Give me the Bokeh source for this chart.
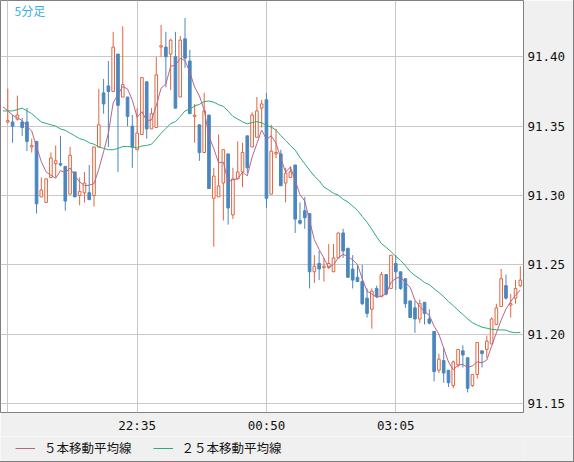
import numpy as np
import pandas as pd
from bokeh.plotting import figure
from bokeh.layouts import column
from bokeh.models import (ColumnDataSource, FixedTicker, Label, Legend, LegendItem,
                          PrintfTickFormatter, Range1d)
from bokeh.embed import file_html
from bokeh.resources import INLINE

# ---------------- data (5-minute candles) ----------------
opens = [91.353, 91.353, 91.355, 91.353, 91.353, 91.335, 91.339, 91.299, 91.295, 91.313,
         91.323, 91.323, 91.321, 91.301, 91.317, 91.300, 91.302, 91.302, 91.300, 91.335,
         91.374, 91.379, 91.375, 91.402, 91.371, 91.371, 91.350, 91.333, 91.344, 91.382,
         91.348, 91.349, 91.407, 91.407, 91.402, 91.400, 91.371, 91.413, 91.397, 91.357,
         91.351, 91.331, 91.358, 91.298, 91.299, 91.309, 91.330, 91.286, 91.312, 91.317,
         91.343, 91.335, 91.342, 91.363, 91.369, 91.301, 91.330, 91.330, 91.309, 91.313,
         91.322, 91.282, 91.289, 91.287, 91.245, 91.251, 91.248, 91.248, 91.245, 91.255,
         91.273, 91.262, 91.247, 91.241, 91.238, 91.226, 91.218, 91.233, 91.227, 91.243,
         91.233, 91.251, 91.245, 91.240, 91.224, 91.219, 91.211, 91.223, 91.211, 91.202,
         91.174, 91.181, 91.174, 91.163, 91.178, 91.188, 91.183, 91.163, 91.171, 91.188,
         91.189, 91.193, 91.207, 91.220, 91.235, 91.221, 91.226, 91.235]
highs = [91.377, 91.358, 91.372, 91.356, 91.363, 91.341, 91.339, 91.313, 91.312, 91.331,
         91.336, 91.343, 91.321, 91.335, 91.317, 91.313, 91.317, 91.322, 91.335, 91.377,
         91.384, 91.397, 91.418, 91.402, 91.422, 91.371, 91.358, 91.363, 91.385, 91.382,
         91.363, 91.400, 91.423, 91.418, 91.413, 91.418, 91.415, 91.428, 91.405, 91.366,
         91.351, 91.374, 91.358, 91.320, 91.344, 91.333, 91.330, 91.320, 91.339, 91.338,
         91.343, 91.360, 91.371, 91.369, 91.374, 91.351, 91.348, 91.333, 91.320, 91.321,
         91.322, 91.295, 91.299, 91.287, 91.257, 91.260, 91.255, 91.265, 91.265, 91.273,
         91.276, 91.262, 91.257, 91.250, 91.250, 91.233, 91.233, 91.235, 91.245, 91.243,
         91.257, 91.257, 91.245, 91.240, 91.224, 91.224, 91.225, 91.223, 91.218, 91.202,
         91.186, 91.190, 91.174, 91.181, 91.189, 91.192, 91.183, 91.171, 91.194, 91.188,
         91.199, 91.212, 91.222, 91.247, 91.243, 91.229, 91.239, 91.249]
lows = [91.352, 91.338, 91.354, 91.343, 91.332, 91.331, 91.287, 91.299, 91.295, 91.313,
        91.313, 91.321, 91.289, 91.301, 91.299, 91.293, 91.295, 91.297, 91.292, 91.335,
        91.359, 91.335, 91.375, 91.317, 91.371, 91.350, 91.320, 91.333, 91.344, 91.341,
        91.348, 91.349, 91.400, 91.378, 91.376, 91.363, 91.371, 91.392, 91.359, 91.338,
        91.325, 91.331, 91.305, 91.263, 91.299, 91.282, 91.279, 91.283, 91.312, 91.306,
        91.316, 91.335, 91.342, 91.349, 91.291, 91.301, 91.327, 91.307, 91.295, 91.313,
        91.273, 91.279, 91.276, 91.233, 91.237, 91.239, 91.238, 91.247, 91.245, 91.255,
        91.255, 91.241, 91.233, 91.238, 91.221, 91.212, 91.204, 91.226, 91.227, 91.228,
        91.233, 91.232, 91.232, 91.219, 91.212, 91.201, 91.208, 91.207, 91.207, 91.166,
        91.172, 91.165, 91.162, 91.161, 91.176, 91.176, 91.158, 91.162, 91.168, 91.176,
        91.183, 91.193, 91.207, 91.220, 91.225, 91.212, 91.222, 91.234]
closes = [91.354, 91.350, 91.358, 91.349, 91.339, 91.336, 91.294, 91.304, 91.312, 91.327,
          91.325, 91.322, 91.296, 91.329, 91.299, 91.303, 91.309, 91.297, 91.335, 91.351,
          91.366, 91.375, 91.407, 91.365, 91.380, 91.357, 91.335, 91.345, 91.385, 91.348,
          91.359, 91.387, 91.408, 91.400, 91.412, 91.363, 91.412, 91.399, 91.359, 91.358,
          91.331, 91.361, 91.305, 91.314, 91.307, 91.333, 91.291, 91.312, 91.317, 91.331,
          91.320, 91.358, 91.361, 91.366, 91.298, 91.332, 91.331, 91.307, 91.316, 91.317,
          91.283, 91.280, 91.284, 91.245, 91.249, 91.247, 91.249, 91.251, 91.255, 91.273,
          91.260, 91.241, 91.239, 91.238, 91.222, 91.215, 91.231, 91.227, 91.243, 91.229,
          91.257, 91.245, 91.233, 91.222, 91.212, 91.211, 91.222, 91.215, 91.208, 91.173,
          91.182, 91.172, 91.165, 91.180, 91.189, 91.185, 91.161, 91.171, 91.194, 91.186,
          91.195, 91.211, 91.219, 91.240, 91.226, 91.222, 91.233, 91.239]

# moving-average values before enough bars are available,
# starting one bar before the first candle
ma5_lead = [91.364, 91.361, 91.358, 91.356, 91.354]
ma25_lead = [91.361, 91.361, 91.361, 91.362, 91.363, 91.361, 91.359, 91.356, 91.353, 91.352,
             91.351, 91.350, 91.348, 91.347, 91.345, 91.343, 91.341, 91.340, 91.338, 91.337,
             91.335, 91.334, 91.333, 91.333, 91.334]

first_bar = "2013-05-01 20:20"
grid_times = ["20:20", "22:35", "00:50", "03:05"]
tick_labels = ["22:35", "00:50", "03:05"]
y_ticks = [91.15, 91.20, 91.25, 91.30, 91.35, 91.40]
legend_labels = ["５本移動平均線", "２５本移動平均線"]
title_text = "5分足"

# ---------------- derived ----------------
n = len(closes)
times = pd.date_range(first_bar, periods=n, freq="5min").strftime("%H:%M").tolist()
idx = np.arange(n)
o = np.array(opens); h = np.array(highs); l = np.array(lows); c = np.array(closes)
up = c >= o

cs = pd.Series(c)
ma5 = list(ma5_lead) + cs.rolling(5).mean().iloc[4:].tolist()
ma25 = list(ma25_lead) + cs.rolling(25).mean().iloc[24:].tolist()
ma_x = list(range(-1, n))

ORANGE = "#e0653f"
BLUE = "#4a87bf"
MAUVE = "#b8648a"
GREEN = "#2bab78"
PANEL = "#f0f0f0"
EDGE = "#808080"

# ---------------- main chart ----------------
p = figure(width=574, height=436, output_backend="svg", toolbar_location=None,
           x_range=Range1d(-1.524, 107.662), y_range=Range1d(91.14355, 91.4406),
           y_axis_location="right",
           min_border_left=0, min_border_top=0, min_border_right=51, min_border_bottom=24)
p.border_fill_color = PANEL
p.background_fill_color = "#ffffff"
p.outline_line_color = EDGE
p.outline_line_width = 1

p.xgrid.ticker = FixedTicker(ticks=[times.index(t) for t in grid_times])
p.ygrid.ticker = FixedTicker(ticks=y_ticks)
for g in (p.xgrid, p.ygrid):
    g.grid_line_color = "#c8c8c8"
    g.grid_line_width = 1

p.xaxis.ticker = FixedTicker(ticks=[times.index(t) for t in tick_labels])
p.xaxis.major_label_overrides = {times.index(t): t for t in tick_labels}
p.yaxis.ticker = FixedTicker(ticks=y_ticks)
p.yaxis.formatter = PrintfTickFormatter(format="%.2f")
for ax in (p.xaxis, p.yaxis):
    ax.axis_line_color = None
    ax.major_tick_line_color = None
    ax.minor_tick_line_color = None
    ax.major_tick_in = 0
    ax.major_tick_out = 0
    ax.major_label_text_font = "DejaVu Sans Mono"
    ax.major_label_text_font_size = "12.5px"
    ax.major_label_text_color = "#111111"
p.xaxis.major_label_standoff = 5
p.yaxis.major_label_standoff = 4

src_up = ColumnDataSource(dict(x=idx[up], o=o[up], h=h[up], l=l[up], c=c[up]))
src_dn = ColumnDataSource(dict(x=idx[~up], o=o[~up], h=h[~up], l=l[~up], c=c[~up]))
p.segment(x0="x", y0="h", x1="x", y1="l", source=src_up, line_color=ORANGE, line_width=1)
p.vbar(x="x", width=0.55, top="c", bottom="o", source=src_up,
       fill_color="#ffffff", line_color=ORANGE, line_width=1)
p.segment(x0="x", y0="h", x1="x", y1="l", source=src_dn, line_color=BLUE, line_width=1)
p.vbar(x="x", width=0.55, top="o", bottom="c", source=src_dn,
       fill_color=BLUE, line_color=BLUE, line_width=1)

p.line(ma_x, ma25, line_color=GREEN, line_width=1)
p.line(ma_x, ma5, line_color=MAUVE, line_width=1)

p.add_layout(Label(x=1.399, y=91.4392, text=title_text, text_baseline="top",
                   text_font="Noto Sans CJK JP", text_font_size="12px",
                   text_color="#3cb0ec"))
p.styles = {"border-right": "1px solid " + EDGE}

# ---------------- legend strip ----------------
leg = figure(width=574, height=26, output_backend="svg", toolbar_location=None,
             x_range=Range1d(0, 1), y_range=Range1d(0, 1),
             x_axis_type=None, y_axis_type=None,
             min_border_left=0, min_border_top=0, min_border_right=0, min_border_bottom=0)
leg.grid.visible = False
leg.outline_line_color = None
leg.background_fill_color = PANEL
leg.border_fill_color = PANEL
# placeholder renderers (no visible data) that only carry the legend line styles
k5 = leg.line(x=[np.nan], y=[np.nan], line_color=MAUVE, line_width=1)
k25 = leg.line(x=[np.nan], y=[np.nan], line_color=GREEN, line_width=1)
legend = Legend(items=[LegendItem(label=legend_labels[0], renderers=[k5]),
                       LegendItem(label=legend_labels[1], renderers=[k25])],
                location=(15, 5), orientation="horizontal",
                glyph_width=20, glyph_height=14, label_height=14, label_standoff=9,
                spacing=21, padding=0, margin=0,
                border_line_color=None, background_fill_alpha=0,
                label_text_font="Noto Sans CJK JP", label_text_font_size="12.5px",
                label_text_color="#111111")
leg.add_layout(legend, "center")
leg.styles = {"border-right": "1px solid " + EDGE, "border-bottom": "1px solid " + EDGE}

layout = column(p, leg, spacing=0)
open("out.html", "w").write(file_html(layout, INLINE))
